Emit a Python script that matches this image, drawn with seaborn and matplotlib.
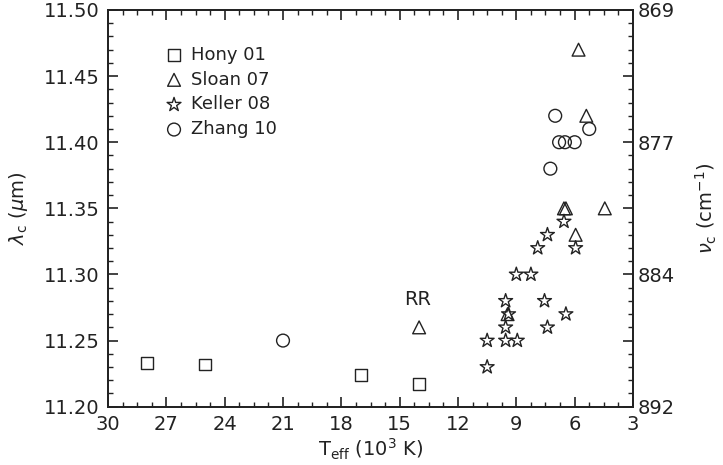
import numpy as np
import pandas as pd
import matplotlib
matplotlib.use("Agg")
import matplotlib.pyplot as plt
import seaborn as sns
from matplotlib.ticker import MultipleLocator, FixedLocator

# ---- data ----
hony_T = [28.0, 25.0, 17.0, 14.0]
hony_lam = [11.233, 11.232, 11.224, 11.217]

sloan_T = [5.8, 5.4, 6.55, 6.45, 4.45, 5.95, 14.0, 9.45]
sloan_lam = [11.47, 11.42, 11.35, 11.35, 11.35, 11.33, 11.26, 11.27]

keller_T = [6.55, 7.4, 7.9, 5.95, 9.0, 8.25, 9.55, 7.55, 9.4, 6.45,
            9.55, 7.4, 10.5, 9.55, 8.95, 10.5]
keller_lam = [11.34, 11.33, 11.32, 11.32, 11.30, 11.30, 11.28, 11.28, 11.27, 11.27,
              11.26, 11.26, 11.25, 11.25, 11.25, 11.23]

zhang_T = [7.0, 5.25, 6.8, 6.5, 6.0, 7.25, 21.0]
zhang_lam = [11.42, 11.41, 11.40, 11.40, 11.40, 11.38, 11.25]

series_labels = ["Hony 01", "Sloan 07", "Keller 08", "Zhang 10"]
x_ticks = [30, 27, 24, 21, 18, 15, 12, 9, 6, 3]
y_ticks = [11.20, 11.25, 11.30, 11.35, 11.40, 11.45, 11.50]
right_tick_pos = [11.20, 11.25, 11.30, 11.35, 11.40, 11.45, 11.50]
right_tick_labels = ["892", "", "884", "", "877", "", "869"]

sns.set_style("ticks")
plt.rcParams["font.family"] = ["DejaVu Sans"]
for k in ["text.color", "axes.labelcolor", "xtick.color", "ytick.color", "axes.edgecolor"]:
    plt.rcParams[k] = "#222222"

fig = plt.figure(figsize=(7.23, 4.65), dpi=100)
ax = fig.add_axes([0.1494, 0.1254, 0.7261, 0.8531])

series = [
    (hony_T, hony_lam, "s", 70, series_labels[0]),
    (sloan_T, sloan_lam, "^", 85, series_labels[1]),
    (keller_T, keller_lam, "*", 110, series_labels[2]),
    (zhang_T, zhang_lam, "o", 85, series_labels[3]),
]
for T, lam, mk, s, lab in series:
    df = pd.DataFrame({"T": T, "lam": lam})
    sns.scatterplot(data=df, x="T", y="lam", marker=mk, s=s, facecolor="none",
                    edgecolor="#222222", linewidth=1.0, label=lab, ax=ax, zorder=3)

ax.set_xlim(30, 3)
ax.set_ylim(11.20, 11.50)
ax.xaxis.set_major_locator(FixedLocator(x_ticks))
ax.xaxis.set_minor_locator(MultipleLocator(0.75))
ax.yaxis.set_major_locator(FixedLocator(y_ticks))
ax.yaxis.set_minor_locator(MultipleLocator(0.01))
ax.set_yticklabels([f"{v:.2f}" for v in y_ticks])
ax.set_xticklabels([str(v) for v in x_ticks])
ax.tick_params(axis="both", which="major", direction="in", length=7, width=1.2,
               labelsize=14, top=True, right=False, pad=6)
ax.tick_params(axis="both", which="minor", direction="in", length=3.5, width=1.0,
               top=True, right=False)
for sp in ax.spines.values():
    sp.set_linewidth(1.3)
    sp.set_visible(True)

ax.set_xlabel(r"T$_{\rm eff}$ (10$^3$ K)", fontsize=14, labelpad=2)
ax.set_ylabel(r"$\lambda_{\rm c}$ ($\mu$m)", fontsize=14, labelpad=10)

ax2 = ax.twinx()
ax2.set_ylim(ax.get_ylim())
ax2.yaxis.set_major_locator(FixedLocator(right_tick_pos))
ax2.set_yticklabels(right_tick_labels)
ax2.yaxis.set_minor_locator(MultipleLocator(0.01))
ax2.tick_params(axis="y", which="major", direction="in", length=7, width=1.2,
                labelsize=14, pad=3)
ax2.tick_params(axis="y", which="minor", direction="in", length=3.5, width=1.0)
ax2.set_ylabel(r"$\nu_{\rm c}$ (cm$^{-1}$)", fontsize=14, rotation=90, labelpad=14)
for sp in ax2.spines.values():
    sp.set_linewidth(1.3)

ax.text(14.1, 11.281, "RR", fontsize=14, ha="center", va="center")

leg = ax.legend(loc="upper left", bbox_to_anchor=(0.112, 0.91), frameon=False,
                fontsize=13, handlelength=0.8, handletextpad=0.55,
                labelspacing=0.38, borderaxespad=0, borderpad=0)

fig.savefig("out.png", dpi=100)
